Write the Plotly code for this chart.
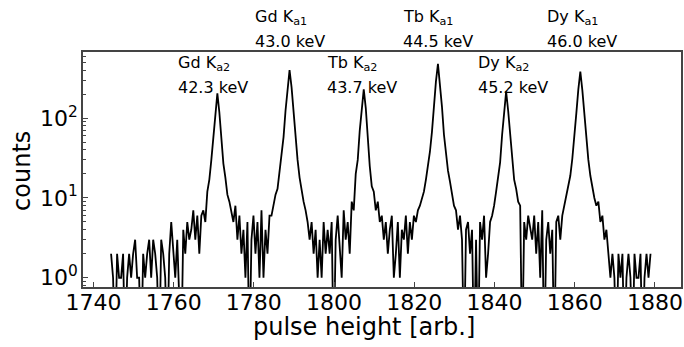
import numpy as np
import plotly.graph_objects as go

# ---- data -------------------------------------------------------------
bin_start = 1744.4
bin_width = 0.5
counts = [
    2, 1, 0, 2, 1, 1, 2, 0, 1, 2,
    1, 2, 3, 1, 1, 0, 2, 1, 2, 3,
    1, 3, 2, 1, 0, 3, 2, 1, 0, 2,
    5, 2, 1, 3, 1, 0, 4, 2, 5, 3,
    4, 7, 3, 6, 2, 6, 7, 5, 12, 17,
    30, 60, 120, 205, 118, 58, 27, 18, 11, 9,
    7, 5, 8, 3, 6, 2, 4, 1, 5, 0,
    3, 6, 2, 5, 1, 7, 1, 4, 2, 6,
    6, 8, 11, 13, 22, 31, 58, 125, 235, 400,
    245, 115, 52, 30, 18, 12, 9, 7, 5, 3,
    5, 2, 4, 1, 3, 1, 5, 2, 4, 2,
    5, 0, 3, 6, 2, 1, 7, 3, 5, 2,
    9, 7, 20, 30, 70, 140, 230, 135, 55, 25,
    14, 12, 7, 9, 5, 6, 3, 5, 2, 4,
    6, 1, 2, 5, 1, 4, 3, 6, 2, 5,
    3, 6, 5, 7, 8, 10, 12, 17, 24, 38,
    67, 144, 290, 480, 285, 140, 62, 36, 22, 16,
    11, 8, 7, 4, 6, 3, 0, 4, 5, 2,
    4, 0, 3, 0, 5, 3, 6, 1, 2, 5,
    6, 8, 12, 19, 28, 62, 130, 215, 125, 60,
    30, 17, 13, 9, 8, 0, 5, 3, 6, 4,
    3, 6, 2, 5, 1, 7, 0, 3, 5, 2,
    4, 0, 5, 6, 3, 6, 8, 10, 13, 19,
    31, 54, 115, 230, 385, 225, 110, 50, 30, 19,
    13, 10, 8, 9, 5, 6, 3, 4, 2, 1,
    2, 1, 0, 2, 1, 2, 0, 1, 2, 1,
    0, 2, 1, 1, 2, 0, 1, 2, 1, 2,
]
pulse_height = bin_start + bin_width * np.arange(len(counts))

# peak labels
line_names = ["Gd K<sub>a2</sub>", "Gd K<sub>a1</sub>", "Tb K<sub>a2</sub>",
              "Tb K<sub>a1</sub>", "Dy K<sub>a2</sub>", "Dy K<sub>a1</sub>"]
line_energies = ["42.3 keV", "43.0 keV", "43.7 keV", "44.5 keV", "45.2 keV", "46.0 keV"]
label_x = [1760.6, 1779.8, 1797.8, 1816.6, 1835.5, 1852.6]
label_row = [0, 1, 0, 1, 0, 1]  # 0 = inside plot, 1 = above plot

x_ticks = [1740, 1760, 1780, 1800, 1820, 1840, 1860, 1880]
y_ticks = [1, 10, 100]
y_tick_text = ["10<sup>0</sup>", "10<sup>1</sup>", "10<sup>2</sup>"]

# ---- figure -----------------------------------------------------------
# zero-count bins drop below the axis (as with a clipped log plot)
y_plot = [c if c > 0 else 0.1 for c in counts]

FONT = "DejaVu Sans"
fig = go.Figure()
fig.add_trace(go.Scatter(
    x=pulse_height, y=y_plot, mode="lines",
    line=dict(color="black", width=1.8),
    hoverinfo="skip", showlegend=False,
))

row_y = {0: (0.953, 0.847), 1: (1.145, 1.043)}
for name, en, xx, r in zip(line_names, line_energies, label_x, label_row):
    y1, y2 = row_y[r]
    fig.add_annotation(x=xx, y=y1, xref="x", yref="paper", text=name,
                       showarrow=False, xanchor="left", yanchor="middle",
                       font=dict(family=FONT, size=16, color="black"))
    fig.add_annotation(x=xx, y=y2, xref="x", yref="paper", text=en,
                       showarrow=False, xanchor="left", yanchor="middle",
                       font=dict(family=FONT, size=16, color="black"))

# axis titles
fig.add_annotation(x=0.47, y=-0.172, xref="paper", yref="paper",
                   text="pulse height [arb.]", showarrow=False,
                   xanchor="center", yanchor="middle",
                   font=dict(family=FONT, size=24, color="black"))
fig.add_annotation(x=-0.102, y=0.494, xref="paper", yref="paper",
                   text="counts", showarrow=False, textangle=-90,
                   xanchor="center", yanchor="middle",
                   font=dict(family=FONT, size=24, color="black"))

minor_vals = [0.8, 0.9] + [m * 10 ** k for k in range(0, 3) for m in range(2, 10)]
minor_vals = [v for v in minor_vals if v < 670]

fig.update_layout(
    width=684, height=347,
    margin=dict(l=83, r=3, t=52, b=60),
    paper_bgcolor="white", plot_bgcolor="white",
    font=dict(family=FONT, color="black"),
    xaxis=dict(
        range=[1737.4, 1886.5], automargin=False,
        tickmode="array", tickvals=x_ticks,
        ticks="inside", ticklen=5, tickcolor="#444", tickwidth=1,
        ticklabelstandoff=-5,
        showline=True, linecolor="#444", linewidth=1.5, mirror=True,
        showgrid=False, zeroline=False,
        tickfont=dict(family=FONT, size=22),
    ),
    yaxis=dict(
        type="log", range=[-0.116, 2.83], automargin=False,
        tickmode="array", tickvals=y_ticks, ticktext=y_tick_text,
        ticks="inside", ticklen=5, tickcolor="#444", tickwidth=1,
        ticklabelstandoff=-1,
        minor=dict(tickmode="array", tickvals=minor_vals, ticks="inside",
                   ticklen=3, tickcolor="#444", showgrid=False),
        showline=True, linecolor="#444", linewidth=1.5, mirror=True,
        showgrid=False, zeroline=False,
        tickfont=dict(family=FONT, size=22),
    ),
)

fig.write_html("out.html", config={"displayModeBar": False},
               post_script="document.body.style.margin='0';document.body.style.padding='0';")
